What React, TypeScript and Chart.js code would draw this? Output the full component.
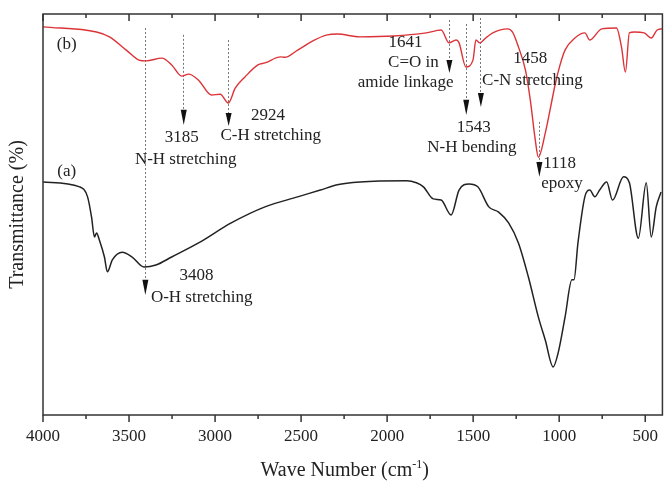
import React, { useEffect, useRef } from 'react';
import { Chart, registerables } from 'chart.js';

Chart.register(...registerables);

// ---- data (wavenumber in cm-1, transmittance in arbitrary % units) ----
const waveB = [4000, 3689, 3614, 3516, 3442, 3401, 3309, 3252, 3194, 3154, 3096, 3021, 2970, 2923, 2883, 2826, 2751, 2710, 2618, 2595, 2520, 2423, 2348, 2290, 2158, 1962, 1772, 1686, 1640, 1599, 1582, 1542, 1501, 1484, 1461, 1427, 1386, 1300, 1271, 1237, 1196, 1168, 1139, 1121, 1081, 1053, 1024, 995, 966, 909, 851, 822, 753, 667, 638, 615, 592, 563, 506, 465, 431, 402];
const transB = [96.8, 95.5, 94.3, 91.0, 88.5, 88.3, 89.0, 87.3, 84.5, 85.0, 83.5, 79.8, 80.0, 77.8, 81.5, 84.3, 87.3, 87.8, 89.3, 89.2, 91.0, 93.5, 94.8, 95.0, 94.3, 94.5, 95.3, 96.0, 92.8, 93.5, 92.8, 86.8, 88.5, 93.5, 92.8, 94.0, 95.3, 96.3, 95.5, 91.8, 86.0, 78.6, 68.6, 64.3, 70.3, 76.1, 82.3, 87.3, 91.0, 94.0, 95.3, 93.5, 96.3, 96.5, 91.8, 85.5, 95.3, 95.5, 95.3, 94.0, 96.0, 96.3];

const waveA = [4000, 3787, 3741, 3718, 3701, 3689, 3672, 3643, 3626, 3597, 3539, 3482, 3413, 3344, 3252, 3096, 2906, 2710, 2520, 2388, 2290, 2158, 1887, 1830, 1789, 1732, 1686, 1628, 1582, 1524, 1473, 1409, 1352, 1294, 1237, 1179, 1121, 1081, 1035, 1006, 966, 926, 914, 891, 851, 822, 793, 765, 724, 690, 626, 592, 540, 494, 465, 436, 408];
const transA = [58.1, 56.9, 54.4, 49.4, 44.4, 45.4, 43.6, 39.4, 35.7, 38.7, 40.6, 39.4, 36.9, 37.4, 39.4, 42.9, 47.9, 51.9, 54.4, 56.1, 57.4, 58.1, 58.4, 57.9, 56.9, 53.9, 53.6, 49.9, 56.1, 57.6, 56.9, 51.9, 50.6, 47.9, 42.9, 34.4, 24.4, 18.7, 12.0, 15.5, 24.4, 33.7, 33.7, 42.9, 54.4, 56.1, 54.4, 56.1, 58.1, 53.6, 59.4, 57.9, 44.1, 57.9, 44.4, 51.9, 55.6];

const xTickValues = [4000, 3500, 3000, 2500, 2000, 1500, 1000, 500];
const xMinorTickValues = [3750, 3250, 2750, 2250, 1750, 1250, 750];

const peakWaves = [3408, 3185, 2924, 1641, 1543, 1458, 1118];
const peakTexts = [
  ['3408', 'O-H stretching'],
  ['3185', 'N-H stretching'],
  ['2924', 'C-H stretching'],
  ['1641', 'C=O in', 'amide linkage'],
  ['1543', 'N-H bending'],
  ['1458', 'C-N stretching'],
  ['1118', 'epoxy'],
];
const seriesLabels = ['(b)', '(a)'];

// ---- layout of annotations (in axis units) ----
// lineTop / lineEnd / tip: y values; text: [x(wn), y, align]
const arrowLayout = [
  { lineTop: 96.5, lineEnd: 33.7, tip: 29.9, text: [[3108, 34.7, 'center'], [3373, 29.4, 'left']] },
  { lineTop: 94.8, lineEnd: 76.1, tip: 72.3, text: [[3194, 69.1, 'center'], [3171, 63.6, 'center']] },
  { lineTop: 93.5, lineEnd: 75.3, tip: 72.1, text: [[2693, 74.8, 'center'], [2676, 69.8, 'center']] },
  { lineTop: 98.5, lineEnd: 88.5, tip: 85.3, text: [[1893, 93.0, 'center'], [1847, 87.8, 'center'], [1893, 82.8, 'center']] },
  { lineTop: 97.5, lineEnd: 78.6, tip: 74.8, text: [[1496, 71.8, 'center'], [1507, 66.8, 'center']] },
  { lineTop: 99.0, lineEnd: 80.3, tip: 76.8, text: [[1168, 88.8, 'center'], [1156, 83.5, 'center']] },
  { lineTop: 73.1, lineEnd: 63.1, tip: 59.4, text: [[1093, 62.8, 'left'], [1104, 57.6, 'left']] },
];
const seriesLabelPos = [[3862, 92.5], [3862, 60.6]];

const SERIF = '"Liberation Serif", "Times New Roman", serif';
const TEXT = '#222';

const decorPlugin = {
  id: 'decor',
  beforeDatasetsDraw(chart: any) {
    const { ctx } = chart;
    const xs = chart.scales.x;
    const ys = chart.scales.y;
    ctx.save();
    ctx.strokeStyle = '#777';
    ctx.lineWidth = 1;
    ctx.setLineDash([2, 2]);
    peakWaves.forEach((w, i) => {
      const L = arrowLayout[i];
      const x = Math.round(xs.getPixelForValue(w)) + 0.5;
      ctx.beginPath();
      ctx.moveTo(x, ys.getPixelForValue(L.lineTop));
      ctx.lineTo(x, ys.getPixelForValue(L.lineEnd));
      ctx.stroke();
    });
    ctx.restore();
  },
  afterDraw(chart: any) {
    const { ctx, chartArea } = chart;
    const xs = chart.scales.x;
    const ys = chart.scales.y;
    ctx.save();
    // arrows
    ctx.fillStyle = '#111';
    peakWaves.forEach((w, i) => {
      const L = arrowLayout[i];
      const x = xs.getPixelForValue(w) + 0.5;
      const y0 = ys.getPixelForValue(L.lineEnd);
      const y1 = ys.getPixelForValue(L.tip);
      ctx.beginPath();
      ctx.moveTo(x - 3, y0);
      ctx.lineTo(x + 3, y0);
      ctx.lineTo(x, y1);
      ctx.closePath();
      ctx.fill();
    });
    // annotation texts
    ctx.fillStyle = TEXT;
    ctx.font = `17px ${SERIF}`;
    ctx.textBaseline = 'middle';
    peakTexts.forEach((lines, i) => {
      const L = arrowLayout[i];
      lines.forEach((t, j) => {
        const p = L.text[j] as any[];
        ctx.textAlign = p[2];
        ctx.fillText(t, xs.getPixelForValue(p[0]), ys.getPixelForValue(p[1]));
      });
    });
    ctx.textAlign = 'center';
    seriesLabels.forEach((t, i) => {
      ctx.fillText(t, xs.getPixelForValue(seriesLabelPos[i][0]), ys.getPixelForValue(seriesLabelPos[i][1]));
    });
    // frame
    ctx.strokeStyle = '#333';
    ctx.lineWidth = 1.5;
    ctx.strokeRect(chartArea.left, chartArea.top, chartArea.right - chartArea.left, chartArea.bottom - chartArea.top);
    // ticks
    ctx.lineWidth = 1.5;
    const drawTick = (v: number, lenB: number, lenT: number) => {
      const x = xs.getPixelForValue(v);
      ctx.beginPath();
      ctx.moveTo(x, chartArea.bottom);
      ctx.lineTo(x, chartArea.bottom + lenB);
      ctx.moveTo(x, chartArea.top);
      ctx.lineTo(x, chartArea.top + lenT);
      ctx.stroke();
    };
    xTickValues.forEach((v) => drawTick(v, 7, 7));
    xMinorTickValues.forEach((v) => drawTick(v, 4, 4));
    // x title with superscript
    const cx = (chartArea.left + chartArea.right) / 2 - 8;
    const ty = 470;
    const big = `20px ${SERIF}`;
    const small = `12px ${SERIF}`;
    const p1 = 'Wave Number (cm';
    const p2 = '-1';
    const p3 = ')';
    ctx.font = big;
    const w1 = ctx.measureText(p1).width;
    const w3 = ctx.measureText(p3).width;
    ctx.font = small;
    const w2 = ctx.measureText(p2).width;
    let sx = cx - (w1 + w2 + w3) / 2;
    ctx.textAlign = 'left';
    ctx.textBaseline = 'alphabetic';
    ctx.fillStyle = TEXT;
    ctx.font = big;
    ctx.fillText(p1, sx, ty + 6);
    sx += w1;
    ctx.font = small;
    ctx.fillText(p2, sx, ty - 2);
    sx += w2;
    ctx.font = big;
    ctx.fillText(p3, sx, ty + 6);
    // y title
    ctx.translate(18, (chartArea.top + chartArea.bottom) / 2);
    ctx.rotate(-Math.PI / 2);
    ctx.textAlign = 'center';
    ctx.textBaseline = 'middle';
    ctx.font = `20px ${SERIF}`;
    ctx.fillText('Transmittance (%)', 0, 0);
    ctx.restore();
  },
};

export default function App() {
  const canvasRef = useRef<HTMLCanvasElement | null>(null);

  useEffect(() => {
    document.body.style.margin = '0';
    const canvas = canvasRef.current;
    if (!canvas) return;
    const chart = new Chart(canvas, {
      type: 'line',
      data: {
        datasets: [
          {
            label: 'b',
            data: waveB.map((w, i) => ({ x: w, y: transB[i] })),
            borderColor: '#dc3338',
            borderWidth: 1.4,
            pointRadius: 0,
            fill: false,
            cubicInterpolationMode: 'monotone',
          },
          {
            label: 'a',
            data: waveA.map((w, i) => ({ x: w, y: transA[i] })),
            borderColor: '#222',
            borderWidth: 1.5,
            pointRadius: 0,
            fill: false,
            cubicInterpolationMode: 'monotone',
          },
        ],
      },
      options: {
        animation: false,
        responsive: false,
        maintainAspectRatio: false,
        devicePixelRatio: 1,
        layout: { padding: { left: 43, right: 1, top: 14, bottom: 0 } },
        plugins: { legend: { display: false }, tooltip: { enabled: false } },
        scales: {
          x: {
            type: 'linear',
            position: 'bottom',
            reverse: true,
            min: 400,
            max: 4000,
            grid: { display: false, drawTicks: false },
            border: { display: false },
            afterBuildTicks: (scale: any) => {
              scale.ticks = xTickValues.map((v) => ({ value: v }));
            },
            afterFit: (scale: any) => {
              scale.height = 71;
            },
            ticks: {
              autoSkip: false,
              maxRotation: 0,
              padding: 11,
              color: TEXT,
              font: { family: SERIF, size: 17 },
              callback: (v: any) => String(v),
            },
          },
          y: {
            display: false,
            min: 0,
            max: 100,
          },
        },
      },
      plugins: [decorPlugin],
    });
    return () => chart.destroy();
  }, []);

  return (
    <div style={{ width: 669, height: 486, background: '#fff' }}>
      <canvas ref={canvasRef} width={669} height={486} style={{ display: 'block' }} />
    </div>
  );
}
